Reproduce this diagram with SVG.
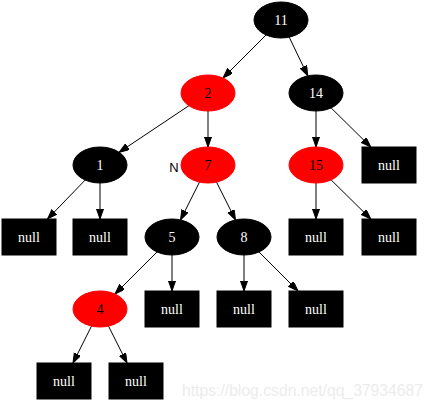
<svg xmlns="http://www.w3.org/2000/svg" width="434" height="411" viewBox="0 0 434 411">
<defs>
<marker id="ah" markerUnits="userSpaceOnUse" markerWidth="11" markerHeight="8" refX="10" refY="3.5" orient="auto" viewBox="0 0 11 8">
<path d="M0,0 L10,3.5 L0,7 z" fill="#000" stroke="#000" stroke-width="1"/>
</marker>
<style>
.e line{stroke:#000;stroke-width:1;marker-end:url(#ah)}
.b ellipse,.b rect{fill:#000;stroke:#000}
.r ellipse{fill:#ff0000;stroke:#ff0000}
.b text{fill:#fff}
.r text{fill:#000}
text{font-family:"Liberation Serif","Times New Roman",serif;font-size:14px;text-anchor:middle}
.xl{font-family:"Liberation Sans",Arial,sans-serif;font-size:13px;fill:#000}
.wm{font-family:"Liberation Sans",Arial,sans-serif;font-size:16px;fill:#ececec;text-anchor:start}
</style>
</defs>
<rect width="434" height="411" fill="#fff"/>
<g id="edges" class="e">
<line x1="266" y1="35" x2="223" y2="78"/>
<line x1="289.2" y1="37.1" x2="307.8" y2="75.9"/>
<line x1="188.9" y1="105.7" x2="119.1" y2="152.3"/>
<line x1="208" y1="111" x2="208" y2="147"/>
<line x1="316" y1="111" x2="316" y2="147"/>
<line x1="331.1" y1="107.9" x2="370.8" y2="147"/>
<line x1="85.2" y1="180" x2="47.5" y2="219"/>
<line x1="100" y1="183" x2="100" y2="219"/>
<line x1="199.5" y1="182.1" x2="180.5" y2="219.9"/>
<line x1="216.5" y1="182.1" x2="235.5" y2="219.9"/>
<line x1="316" y1="183" x2="316" y2="219"/>
<line x1="331.1" y1="179.9" x2="370.8" y2="219"/>
<line x1="157" y1="252" x2="115" y2="294"/>
<line x1="172" y1="255" x2="172" y2="291"/>
<line x1="244" y1="255" x2="244" y2="291"/>
<line x1="259" y1="252" x2="298" y2="291"/>
<line x1="91.5" y1="326.1" x2="73" y2="363"/>
<line x1="108.5" y1="326.1" x2="127" y2="363"/>
</g>
<g id="n11" class="b"><ellipse cx="281" cy="20" rx="27" ry="18"/><text x="281" y="25">11</text></g>
<g id="n2" class="r"><ellipse cx="208" cy="93" rx="27" ry="18"/><text x="208" y="98">2</text></g>
<g id="n14" class="b"><ellipse cx="316" cy="93" rx="27" ry="18"/><text x="316" y="98">14</text></g>
<g id="n1" class="b"><ellipse cx="100" cy="165" rx="27" ry="18"/><text x="100" y="170">1</text></g>
<g id="n7" class="r"><ellipse cx="208" cy="165" rx="27" ry="18"/><text x="208" y="170">7</text><text class="xl" x="174" y="171.5">N</text></g>
<g id="n15" class="r"><ellipse cx="316" cy="165" rx="27" ry="18"/><text x="316" y="170">15</text></g>
<g id="null14" class="b"><rect x="362" y="147" width="54" height="36"/><text x="389" y="170">null</text></g>
<g id="null1l" class="b"><rect x="2" y="219" width="54" height="36"/><text x="29" y="242">null</text></g>
<g id="null1r" class="b"><rect x="73" y="219" width="54" height="36"/><text x="100" y="242">null</text></g>
<g id="n5" class="b"><ellipse cx="172" cy="237" rx="27" ry="18"/><text x="172" y="242">5</text></g>
<g id="n8" class="b"><ellipse cx="244" cy="237" rx="27" ry="18"/><text x="244" y="242">8</text></g>
<g id="null15l" class="b"><rect x="289" y="219" width="54" height="36"/><text x="316" y="242">null</text></g>
<g id="null15r" class="b"><rect x="362" y="219" width="54" height="36"/><text x="389" y="242">null</text></g>
<g id="n4" class="r"><ellipse cx="100" cy="309" rx="27" ry="18"/><text x="100" y="314">4</text></g>
<g id="null5" class="b"><rect x="145" y="291" width="54" height="36"/><text x="172" y="314">null</text></g>
<g id="null8l" class="b"><rect x="217" y="291" width="54" height="36"/><text x="244" y="314">null</text></g>
<g id="null8r" class="b"><rect x="289" y="291" width="54" height="36"/><text x="316" y="314">null</text></g>
<g id="null4l" class="b"><rect x="37" y="363" width="54" height="36"/><text x="64" y="386">null</text></g>
<g id="null4r" class="b"><rect x="109" y="363" width="54" height="36"/><text x="136" y="386">null</text></g>
<text class="wm" x="182" y="396" textLength="241" lengthAdjust="spacingAndGlyphs">https://blog.csdn.net/qq_37934687</text>
</svg>
